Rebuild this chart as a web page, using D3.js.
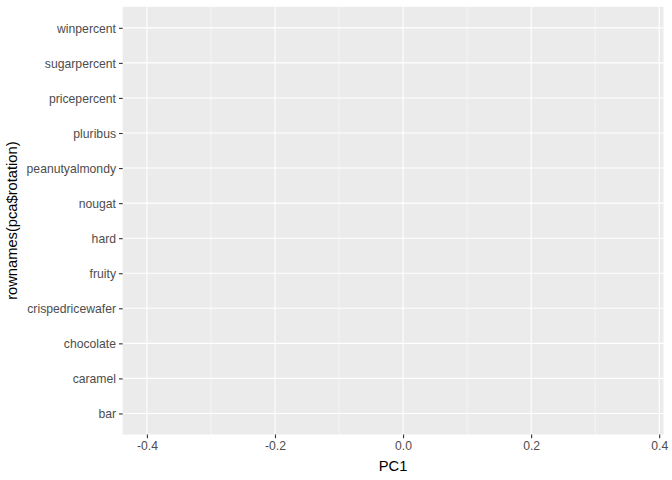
<!DOCTYPE html>
<html>
<head>
<meta charset="utf-8">
<script src="https://cdn.jsdelivr.net/npm/d3@7"></script>
<style>
  html, body { margin: 0; padding: 0; background: #fff; }
  svg { display: block; font-family: "Liberation Sans", Arial, sans-serif; }
</style>
</head>
<body>
<svg id="chart" width="672" height="480"></svg>
<script>
const categories = ["bar", "caramel", "chocolate", "crispedricewafer", "fruity", "hard",
  "nougat", "peanutyalmondy", "pluribus", "pricepercent", "sugarpercent", "winpercent"];
const xDomain = [-0.4378, 0.4067];
const xMajorTicks = [-0.4, -0.2, 0.0, 0.2, 0.4];
const xMinorTicks = [-0.3, -0.1, 0.1, 0.3];
const xTickLabels = ["-0.4", "-0.2", "0.0", "0.2", "0.4"];
const xTitle = "PC1";
const yTitle = "rownames(pca$rotation)";

const svg = d3.select("#chart");
const panel = { left: 122.7, right: 663.5, top: 6.8, bottom: 434.5 };

const x = d3.scaleLinear().domain(xDomain).range([panel.left, panel.right]);
const y = d3.scalePoint().domain(categories).range([panel.bottom, panel.top]).padding(0.6);

// panel background
svg.append("rect")
  .attr("x", panel.left).attr("y", panel.top)
  .attr("width", panel.right - panel.left).attr("height", panel.bottom - panel.top)
  .attr("fill", "#EBEBEB");

const grid = svg.append("g");
grid.selectAll("line.minor").data(xMinorTicks).join("line")
  .attr("x1", d => x(d)).attr("x2", d => x(d))
  .attr("y1", panel.top).attr("y2", panel.bottom)
  .attr("stroke", "#fff").attr("stroke-width", 0.55);
grid.selectAll("line.majx").data(xMajorTicks).join("line")
  .attr("x1", d => x(d)).attr("x2", d => x(d))
  .attr("y1", panel.top).attr("y2", panel.bottom)
  .attr("stroke", "#fff").attr("stroke-width", 1.1);
grid.selectAll("line.majy").data(categories).join("line")
  .attr("x1", panel.left).attr("x2", panel.right)
  .attr("y1", d => y(d)).attr("y2", d => y(d))
  .attr("stroke", "#fff").attr("stroke-width", 1.1);

// x axis
const xAxis = svg.append("g")
  .attr("transform", `translate(0,${panel.bottom})`)
  .call(d3.axisBottom(x).tickValues(xMajorTicks)
    .tickFormat((d, i) => xTickLabels[i]).tickSize(3.7).tickPadding(3));
xAxis.select(".domain").remove();
xAxis.selectAll(".tick line").attr("stroke", "#333333").attr("stroke-width", 1.1);
xAxis.selectAll(".tick text").attr("fill", "#4D4D4D").attr("font-size", "12.2px")
  .attr("font-family", "Liberation Sans, Arial, sans-serif");

// y axis
const yAxis = svg.append("g")
  .attr("transform", `translate(${panel.left},0)`)
  .call(d3.axisLeft(y).tickSize(3.7).tickPadding(3));
yAxis.select(".domain").remove();
yAxis.selectAll(".tick line").attr("stroke", "#333333").attr("stroke-width", 1.1);
yAxis.selectAll(".tick text").attr("fill", "#4D4D4D").attr("font-size", "12.2px")
  .attr("dy", "0.36em")
  .attr("font-family", "Liberation Sans, Arial, sans-serif");

// titles
svg.append("text")
  .attr("x", (panel.left + panel.right) / 2).attr("y", 471)
  .attr("text-anchor", "middle").attr("font-size", "14.7px").attr("fill", "#000")
  .text(xTitle);
svg.append("text")
  .attr("transform", `translate(17,${(panel.top + panel.bottom) / 2}) rotate(-90)`)
  .attr("text-anchor", "middle").attr("font-size", "14.7px").attr("fill", "#000")
  .text(yTitle);
</script>
</body>
</html>
